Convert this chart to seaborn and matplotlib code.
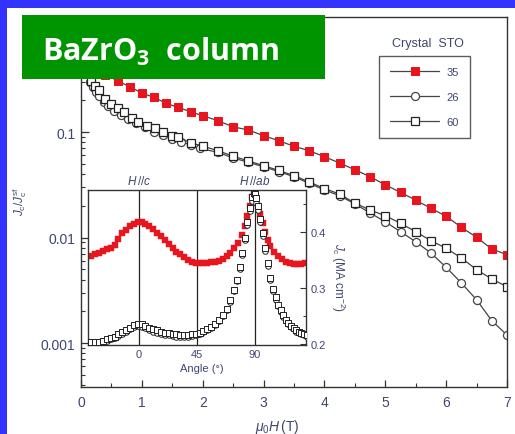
import matplotlib
matplotlib.use('Agg')
import matplotlib.pyplot as plt
import seaborn as sns
import numpy as np
import pandas as pd
from matplotlib.patches import Rectangle
from matplotlib.ticker import LogLocator, FixedLocator, FixedFormatter, NullFormatter, MultipleLocator

# ---------------- data: main panel (Jc/Jc_sf vs field) ----------------
field_35 = [0.2, 0.4, 0.6, 0.8, 1.0, 1.2, 1.4, 1.6, 1.8, 2.0, 2.25, 2.5, 2.75, 3.0, 3.25, 3.5,
            3.75, 4.0, 4.25, 4.5, 4.75, 5.0, 5.25, 5.5, 5.75, 6.0, 6.25, 6.5, 6.75, 7.0]
jc_35 = [0.40, 0.35, 0.306, 0.2685, 0.234, 0.213, 0.187, 0.171, 0.1556, 0.1428, 0.128, 0.112,
         0.1045, 0.0922, 0.0828, 0.0732, 0.0665, 0.0583, 0.0508, 0.0439, 0.0377, 0.0316, 0.0268,
         0.0226, 0.0189, 0.0159, 0.0125, 0.01005, 0.00778, 0.00687]

field_26 = [0.15, 0.2, 0.25, 0.3, 0.37, 0.45, 0.55, 0.65, 0.77, 0.91, 1.05, 1.2, 1.35, 1.5, 1.65,
            1.8, 1.95, 2.25, 2.5, 2.75, 3.0, 3.25, 3.5, 3.75, 4.0, 4.25, 4.5, 4.75, 5.0, 5.25,
            5.5, 5.75, 6.0, 6.25, 6.5, 6.75, 7.0]
jc_26 = [0.296, 0.265, 0.238, 0.218, 0.194, 0.1775, 0.159, 0.145, 0.1328, 0.1217, 0.111, 0.1007,
         0.0937, 0.0859, 0.081, 0.0753, 0.070, 0.0642, 0.0568, 0.0516, 0.0469, 0.0421, 0.0377,
         0.0326, 0.0282, 0.0249, 0.0208, 0.0171, 0.0141, 0.01135, 0.00912, 0.00713, 0.00522,
         0.00371, 0.00257, 0.00163, 0.00119]

field_60 = [0.17, 0.23, 0.29, 0.4, 0.49, 0.6, 0.71, 0.83, 0.94, 1.08, 1.21, 1.35, 1.49, 1.6, 1.8,
            2.0, 2.25, 2.5, 2.75, 3.0, 3.25, 3.5, 3.75, 4.0, 4.25, 4.5, 4.75, 5.0, 5.25, 5.5,
            5.75, 6.0, 6.25, 6.5, 6.75, 7.0]
jc_60 = [0.306, 0.275, 0.252, 0.2056, 0.184, 0.168, 0.1538, 0.1349, 0.1236, 0.1148, 0.1084, 0.0994,
         0.0923, 0.089, 0.079, 0.0735, 0.0665, 0.059, 0.0532, 0.048, 0.0432, 0.0386, 0.0336,
         0.0291, 0.0258, 0.0212, 0.0182, 0.0161, 0.01364, 0.01135, 0.00933, 0.00791, 0.0064,
         0.00496, 0.00404, 0.00342]

series_labels = ['35', '26', '60']

# ---------------- data: inset (Jc vs angle) ----------------
angle_red = [-37, -34, -31, -28, -25, -22, -19, -16, -13, -10, -7, -4, -1, 2, 5, 8, 11, 14, 17, 20,
             23, 26, 29, 32, 35, 38, 41, 44, 47, 50, 53, 56, 59, 62, 65, 68, 71, 74, 77, 80, 82,
             84, 86, 88, 89, 90, 92, 94, 96, 98, 100, 102, 105, 108, 111, 114, 117, 120, 123,
             126, 129]
jc_red = [0.357, 0.360, 0.363, 0.366, 0.369, 0.372, 0.377, 0.387, 0.398, 0.404, 0.410, 0.415,
          0.418, 0.417, 0.415, 0.411, 0.406, 0.399, 0.392, 0.385, 0.378, 0.371, 0.365, 0.360,
          0.355, 0.350, 0.347, 0.345, 0.344, 0.344, 0.345, 0.346, 0.347, 0.349, 0.352, 0.357,
          0.363, 0.371, 0.380, 0.395, 0.410, 0.428, 0.447, 0.462, 0.468, 0.462, 0.447, 0.432,
          0.416, 0.400, 0.386, 0.375, 0.364, 0.357, 0.351, 0.347, 0.344, 0.342, 0.342, 0.343,
          0.345]

angle_blk = [-40, -37, -34, -31, -28, -25, -22, -19, -16, -13, -10, -7, -4, -1, 2, 5, 8, 11, 14,
             17, 20, 23, 26, 29, 32, 35, 38, 41, 44, 47, 50, 53, 56, 59, 62, 65, 68, 71, 74, 76,
             78, 80, 82, 84, 86, 88, 89, 90, 91, 92, 94, 96, 98, 100, 102, 104, 106, 108, 110,
             112, 114, 116, 118, 120, 122, 124, 126, 128, 130]
jc_sq = [0.204, 0.204, 0.203, 0.204, 0.206, 0.208, 0.210, 0.213, 0.217, 0.221, 0.225, 0.229,
         0.233, 0.236, 0.235, 0.232, 0.229, 0.226, 0.224, 0.222, 0.220, 0.219, 0.218, 0.217,
         0.216, 0.216, 0.216, 0.217, 0.218, 0.220, 0.223, 0.226, 0.230, 0.235, 0.242, 0.251,
         0.263, 0.278, 0.297, 0.315, 0.337, 0.363, 0.390, 0.418, 0.443, 0.462, 0.470, 0.468,
         0.460, 0.447, 0.423, 0.398, 0.372, 0.345, 0.318, 0.298, 0.283, 0.270, 0.260, 0.251,
         0.243, 0.237, 0.232, 0.228, 0.224, 0.221, 0.219, 0.217, 0.215]
jc_ci = [0.203, 0.202, 0.202, 0.203, 0.204, 0.206, 0.208, 0.211, 0.214, 0.218, 0.222, 0.226,
         0.230, 0.232, 0.231, 0.228, 0.225, 0.222, 0.220, 0.218, 0.216, 0.215, 0.214, 0.213,
         0.212, 0.212, 0.213, 0.214, 0.215, 0.218, 0.221, 0.224, 0.228, 0.233, 0.240, 0.249,
         0.260, 0.275, 0.294, 0.312, 0.333, 0.358, 0.385, 0.412, 0.438, 0.455, 0.462, 0.460,
         0.452, 0.440, 0.417, 0.392, 0.366, 0.340, 0.314, 0.294, 0.279, 0.267, 0.257, 0.248,
         0.241, 0.235, 0.230, 0.226, 0.222, 0.219, 0.217, 0.215, 0.213]

# ---------------- styling ----------------
sns.set_theme(style='ticks')
FONT = ['Liberation Sans Narrow', 'Liberation Sans', 'DejaVu Sans']
plt.rcParams['font.family'] = FONT
plt.rcParams['mathtext.fontset'] = 'custom'
plt.rcParams['mathtext.rm'] = 'Liberation Sans'
plt.rcParams['mathtext.it'] = 'Liberation Sans:italic'
plt.rcParams['mathtext.bf'] = 'Open Sans:bold'

TXT = '#3f4670'
SPINE = '#333333'
RED = '#e8141e'
BLUE_BG = '#3333ff'
GREEN = '#009400'

W, H = 515, 435
fig = plt.figure(figsize=(W / 100, H / 100), dpi=100)
fig.patch.set_facecolor(BLUE_BG)
fig.patches.append(Rectangle((7 / W, 0), 1 - 7 / W, (H - 9) / H, transform=fig.transFigure,
                             facecolor='white', edgecolor='none', zorder=-5))

def fx(px):
    return px / W

def fy(py):
    return 1 - py / H

# main axes: pixel box left 81, right 507, top 17.5, bottom 388
ax = fig.add_axes([fx(81), fy(388), fx(507) - fx(81), fy(17.5) - fy(388)], zorder=1)
ax.set_facecolor('white')
ax.set_yscale('log')
ax.set_xlim(0, 7)
ax.set_ylim(0.000383, 1.244)

df35 = pd.DataFrame({'field': field_35, 'jc': jc_35})
df26 = pd.DataFrame({'field': field_26, 'jc': jc_26})
df60 = pd.DataFrame({'field': field_60, 'jc': jc_60})

sns.lineplot(data=df35, x='field', y='jc', ax=ax, color='#444444', lw=0.9, marker='s',
             markersize=5.2, markerfacecolor=RED, markeredgecolor=RED, label=series_labels[0],
             sort=True)
sns.lineplot(data=df26, x='field', y='jc', ax=ax, color='#444444', lw=0.9, marker='o',
             markersize=5.8, markerfacecolor='white', markeredgecolor='#444444',
             markeredgewidth=0.9, label=series_labels[1], sort=True)
sns.lineplot(data=df60, x='field', y='jc', ax=ax, color='#444444', lw=0.9, marker='s',
             markersize=5.2, markerfacecolor='white', markeredgecolor='#222222',
             markeredgewidth=0.9, label=series_labels[2], sort=True)

for s in ax.spines.values():
    s.set_color(SPINE)
    s.set_linewidth(1.0)
    s.set_visible(True)

ax.xaxis.set_major_locator(MultipleLocator(1))
ax.xaxis.set_minor_locator(MultipleLocator(0.5))
ax.tick_params(axis='x', which='major', direction='in', length=5, width=0.9, color=SPINE,
               labelsize=10, labelcolor=TXT, pad=6, top=False)
ax.tick_params(axis='x', which='minor', direction='in', length=3, width=0.8, color=SPINE,
               top=False)
ax.yaxis.set_major_locator(FixedLocator([0.001, 0.01, 0.1, 1]))
ax.yaxis.set_major_formatter(FixedFormatter(['0.001', '0.01', '0.1', '1']))
ax.yaxis.set_minor_locator(LogLocator(base=10, subs=np.arange(2, 10)))
ax.yaxis.set_minor_formatter(NullFormatter())
ax.tick_params(axis='y', which='major', direction='in', length=6, width=0.9, color=SPINE,
               labelsize=10, labelcolor=TXT, pad=4, right=False)
ax.tick_params(axis='y', which='minor', direction='in', length=3, width=0.8, color=SPINE,
               right=False)

ax.set_xlabel(r'$\mu_0H\,$(T)', fontsize=10, color=TXT)
ax.xaxis.set_label_coords((277 - 81) / 426, -(418 - 388) / 370.5)
ax.set_ylabel(r'$J_{\rm c}/J_{\rm c}^{\rm sf}$', fontsize=8.5, color=TXT)
ax.yaxis.set_label_coords(-(81 - 29) / 426, (388 - 202) / 370.5)

leg = ax.legend(loc='upper left', bbox_to_anchor=((379 - 81) / 426, (388 - 57) / 370.5),
                borderaxespad=0, frameon=True, fancybox=False, fontsize=8,
                handlelength=4.4, handletextpad=0.7, labelspacing=1.35, borderpad=1.0)
leg.get_frame().set_edgecolor('#333333')
leg.get_frame().set_linewidth(1.0)
for t in leg.get_texts():
    t.set_color(TXT)
ax.text((428 - 81) / 426, (388 - 44) / 370.5, 'Crystal  STO', transform=ax.transAxes,
        ha='center', va='center', fontsize=9, color=TXT)

# inset: pixel box left 88, right 306, top 191, bottom 346
axi = fig.add_axes([fx(88), fy(346), fx(306) - fx(88), fy(191) - fy(346)], zorder=5)
axi.set_facecolor('white')
axi.set_xlim(-39.6, 129.6)
axi.set_ylim(0.198, 0.475)
for xv in [0, 45, 90]:
    axi.axvline(xv, color='#222222', lw=0.9, zorder=1)

sns.scatterplot(x=angle_red, y=jc_red, ax=axi, marker='s', s=18, color=RED, edgecolor=RED,
                linewidth=0.3, zorder=2)
sns.scatterplot(x=angle_blk, y=jc_ci, ax=axi, marker='o', s=16, facecolor='white',
                edgecolor='#222222', linewidth=0.7, zorder=3)
sns.scatterplot(x=angle_blk, y=jc_sq, ax=axi, marker='s', s=16, facecolor='white',
                edgecolor='#222222', linewidth=0.7, zorder=4)

for s in axi.spines.values():
    s.set_color(SPINE)
    s.set_linewidth(1.0)
axi.xaxis.set_major_locator(FixedLocator([0, 45, 90]))
axi.tick_params(axis='x', which='major', length=0, labelsize=8, labelcolor=TXT, pad=3)
axi.yaxis.tick_right()
axi.yaxis.set_label_position('right')
axi.yaxis.set_major_locator(FixedLocator([0.2, 0.3, 0.4]))
axi.yaxis.set_major_formatter(FixedFormatter(['0.2', '0.3', '0.4']))
axi.yaxis.set_minor_locator(MultipleLocator(0.05))
axi.tick_params(axis='y', which='major', direction='in', length=4, width=0.8, color=SPINE,
                labelsize=8, labelcolor=TXT, pad=3, left=False, right=True)
axi.tick_params(axis='y', which='minor', direction='in', length=2, width=0.7, color=SPINE,
                left=False, right=True)
axi.set_xlabel('Angle (°)', fontsize=8, color=TXT)
axi.set_ylabel(r'$J_{\rm c}$ (MA cm$^{-2}$)', fontsize=8.5, color=TXT, rotation=270)
axi.yaxis.set_label_coords((347 - 88) / 218, (346 - 278) / 155)
axi.xaxis.set_label_coords((202 - 88) / 218, -(364 - 346) / 155)
axi.text(0, 1.02, r'$H\,//c$', transform=axi.get_xaxis_transform(), ha='center',
         va='bottom', fontsize=8.5, color=TXT)
axi.text(90, 1.02, r'$H\,//ab$', transform=axi.get_xaxis_transform(), ha='center',
         va='bottom', fontsize=8.5, color=TXT)

# green title box
fig.patches.append(Rectangle((fx(22), fy(80)), fx(325) - fx(22), fy(16) - fy(80),
                             transform=fig.transFigure, facecolor=GREEN, edgecolor='none',
                             zorder=10))
fig.text(fx(42), fy(61), r'BaZrO$_\mathbf{3}$  column', ha='left', va='baseline',
         fontsize=22, fontweight='bold', color='white', family='Open Sans', zorder=11)

fig.savefig('out.png', dpi=100, facecolor=fig.get_facecolor())
